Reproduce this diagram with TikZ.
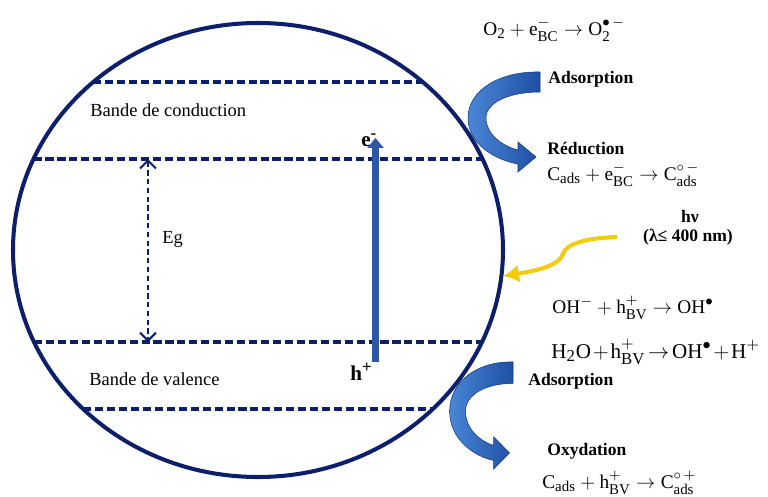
\documentclass[tikz,border=0pt]{standalone}
\usepackage{amsmath}
\usepackage{fontspec}
\setmainfont{Liberation Serif}
\usetikzlibrary{arrows.meta}
\DeclareMathSizes{11}{11}{8.5}{6.5}
\DeclareMathSizes{12}{12}{9.5}{7}
\definecolor{navy}{HTML}{0D1F6B}
\definecolor{ribbon}{HTML}{1E4FA5}
\definecolor{ribbonlight}{HTML}{4A86D6}
\definecolor{shaft}{HTML}{2E58A6}
\definecolor{sun}{HTML}{F3CB0A}
\newcommand{\tx}[1]{\text{#1}}

\tikzset{
  bendarrow/.pic={
    \shade[left color=ribbonlight,right color=ribbon,draw=ribbon!70!black,line width=0.3pt]
      (0,0) .. controls (-40,-1) and (-72,18) .. (-72,46)
      .. controls (-72,72) and (-45,88) .. (-22,92)
      -- (-22,100) -- (-4,85) -- (-22,70) -- (-22,78)
      .. controls (-38,74) and (-54,62) .. (-54,46)
      .. controls (-54,30) and (-30,20) .. (0,20) -- cycle;
  }
}

\begin{document}
\begin{tikzpicture}[x=0.02cm,y=-0.02cm,
  band/.style={navy,line width=2.1pt,dash pattern=on 4.6pt off 2.2pt},
  lbl/.style={anchor=base west,inner sep=0pt,font=\fontsize{10.5}{12}\selectfont},
  tag/.style={anchor=base west,inner sep=0pt,font=\fontsize{10}{12}\selectfont\bfseries},
  eqn/.style={anchor=base west,inner sep=0pt,font=\fontsize{11}{13}\selectfont}]
\useasboundingbox (0,0) rectangle (768,497);

% particle and bands
\draw[navy,line width=2.3pt] (258,250) ellipse [x radius=245,y radius=227];
\foreach \yy in {82,159,342,409}{
  \pgfmathsetmacro\hw{245*sqrt(1-((\yy-250)/227)^2)}
  \draw[band] ({258-\hw},\yy) -- ({258+\hw},\yy);
}
\node[lbl] (cb) at (90,116) {Bande de conduction};
\node[lbl] (vb) at (89,385) {Bande de valence};

% gap
\coordinate (gaptop) at (148,159);
\coordinate (gapbot) at (148,342);
\draw[navy,line width=1.2pt,dash pattern=on 3pt off 2pt,
  {Straight Barb[length=1.6mm,width=3.2mm]}-{Straight Barb[length=1.6mm,width=3.2mm]}] (gaptop) -- (gapbot);
\node[lbl] (eg) at (162,243) {Eg};

% excitation
\coordinate (hole) at (375.5,362);
\coordinate (elec) at (375.5,138);
\draw[shaft,line width=0.14cm,-{Triangle[length=0.2cm,width=0.32cm]}] (hole) -- (elec);
\node[tag,font=\fontsize{12}{14}\selectfont\bfseries] (em) at (361,146) {e\textsuperscript{-}};
\node[tag,font=\fontsize{12}{14}\selectfont\bfseries] (hp) at (350,380) {h\textsuperscript{+}};

% surface arrows
\pic at (540,72) {bendarrow};
\pic[xscale=0.88,yscale=1.07] at (513,362) {bendarrow};

% light
\coordinate (photon) at (617,237);
\coordinate (hit) at (503,276);
\draw[sun,line width=2.3pt,-{Latex[length=3.2mm,width=3.6mm]}] (photon)
  .. controls (585,238) and (566,244) .. (563,254)
  .. controls (559,266) and (535,271) .. (hit);
\node[tag,anchor=base] (hnu) at (690,222) {hν};
\node[tag,anchor=base] (lam) at (688,241) {(λ≤ 400 nm)};

% reactions
\node[eqn] (r1) at (483,35) {$\tx{O}_{\tx{2}}+\tx{e}^{-}_{\tx{BC}}\rightarrow\tx{O}_{\tx{2}}^{\bullet\,-}$};
\node[tag] (ads1) at (548,83) {Adsorption};
\node[tag] (red) at (547,154) {Réduction};
\node[eqn] (r2) at (547,180) {$\tx{C}_{\tx{ads}}+\tx{e}^{-}_{\tx{BC}}\rightarrow\tx{C}^{\circ\,-}_{\tx{ads}}$};
\node[eqn] (r3) at (552,313) {$\tx{OH}^{-}+\tx{h}^{+}_{\tx{BV}}\rightarrow\tx{OH}^{\bullet}$};
\node[eqn,font=\fontsize{12}{14}\selectfont] (r4) at (551,358) {$\medmuskip=1.5mu\thickmuskip=2.5mu
  \tx{H}_{\tx{2}}\tx{O}+\tx{h}^{+}_{\tx{BV}}\rightarrow\tx{OH}^{\bullet}+\tx{H}^{+}$};
\node[tag] (ads2) at (528,385) {Adsorption};
\node[tag] (oxy) at (547,455) {Oxydation};
\node[eqn] (r5) at (542,488) {$\tx{C}_{\tx{ads}}+\tx{h}^{+}_{\tx{BV}}\rightarrow\tx{C}^{\circ\,+}_{\tx{ads}}$};
\end{tikzpicture}
\end{document}
